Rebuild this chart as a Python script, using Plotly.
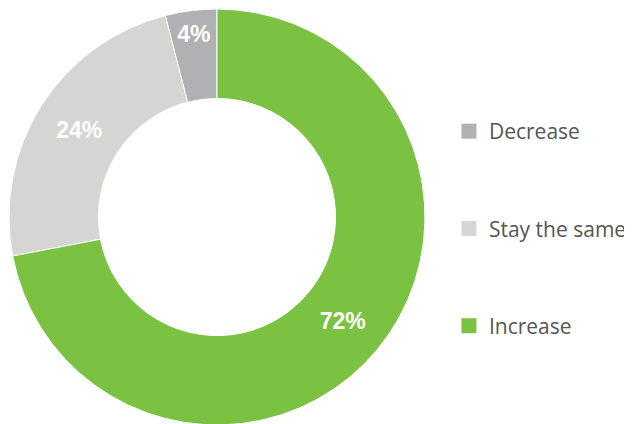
import plotly.graph_objects as go

labels = ["Decrease", "Stay the same", "Increase"]
values = [4, 24, 72]
text_labels = ["4%", "24%", "72%"]
colors = ["#B1B1B4", "#D5D6D3", "#7CC242"]

fig = go.Figure()
fig.add_trace(go.Pie(
    labels=labels,
    values=values,
    text=text_labels,
    textinfo="text",
    textposition="inside",
    insidetextorientation="horizontal",
    hole=0.57,
    sort=False,
    direction="counterclockwise",
    rotation=-14.4,
    marker=dict(colors=colors, line=dict(color="white", width=1)),
    textfont=dict(family="Liberation Sans, Arial", size=23, color="white", weight="bold"),
    domain=dict(x=[0.0016, 0.6598], y=[0.0165, 0.9976]),
    showlegend=False,
))

for lab, col in zip(labels, colors):
    fig.add_trace(go.Scatter(
        x=[None], y=[None], mode="markers", name=lab, legendgroup=lab,
        marker=dict(symbol="square", size=15, color=col, line=dict(width=0)),
    ))

fig.update_layout(
    width=632, height=424,
    margin=dict(l=0, r=0, t=0, b=0),
    paper_bgcolor="white", plot_bgcolor="white",
    xaxis=dict(visible=False), yaxis=dict(visible=False),
    legend=dict(
        x=0.6977, y=0.48, xanchor="left", yanchor="middle",
        font=dict(family="Open Sans", size=21, color="#555555"),
        tracegroupgap=67, bgcolor="rgba(0,0,0,0)",
    ),
)
fig.write_html("out.html")
